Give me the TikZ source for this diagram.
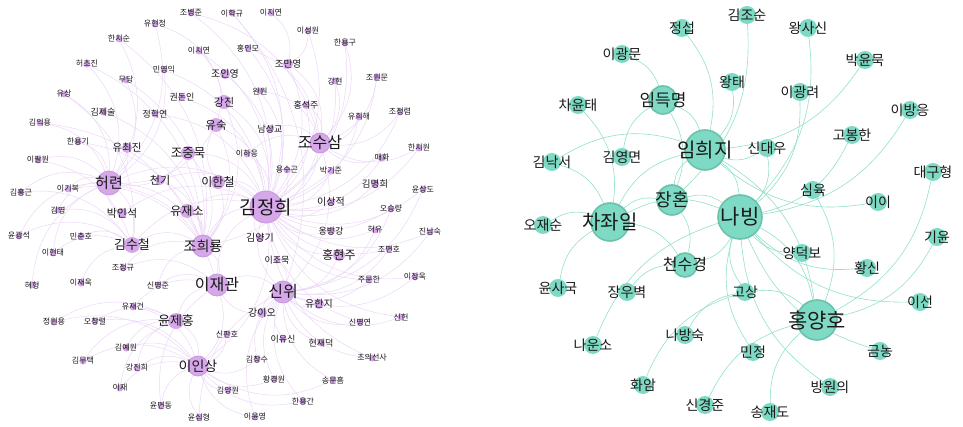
\documentclass[tikz,border=0pt]{standalone}
\usepackage{fontspec}
\setmainfont{Noto Sans CJK KR}
\pgfdeclarelayer{edgelayer}
\pgfdeclarelayer{textlayer}
\pgfsetlayers{edgelayer,main,textlayer}
\definecolor{pdot}{RGB}{214,168,234}
\definecolor{pring}{RGB}{198,150,222}
\definecolor{pline}{RGB}{236,214,247}
\definecolor{gdot}{RGB}{126,218,196}
\definecolor{gring}{RGB}{106,194,170}
\definecolor{gline}{RGB}{146,224,202}
\definecolor{ink}{RGB}{25,25,25}
\tikzset{
  pnode/.style={circle,fill=pdot,inner sep=0pt},
  pbig/.style={pnode,draw=pring,line width=0.8pt},
  gnode/.style={circle,fill=gdot,inner sep=0pt},
  gbig/.style={gnode,draw=gring,line width=1.6pt},
  pedge/.style={draw=pline,line width=0.5pt},
  gedge/.style={draw=gline,line width=0.6pt}
}
% #1 style, #2 name, #3 position, #4 diameter, #5 font size, #6 label
\newcommand\vtx[6]{%
  \node[#1,minimum size=#4pt] (#2) at (#3) {};
  \begin{pgfonlayer}{textlayer}
    \node[text=ink,inner sep=0pt,font=\fontsize{#5}{#5}\selectfont] at (#2) {#6};
  \end{pgfonlayer}}
\begin{document}
\begin{tikzpicture}[x=1pt,y=-1pt]
\useasboundingbox (0,0) rectangle (963,427);

% ---------- left network: hubs ----------
\vtx{pbig}{kjh}{266,207}{32}{19}{김정희}
\vtx{pbig}{hr}{109,183}{24}{15}{허련}
\vtx{pbig}{jhr}{203,246}{22}{14}{조희룡}
\vtx{pbig}{ljg}{217,285}{22}{16}{이재관}
\vtx{pbig}{sw}{283,292}{22}{16}{신위}
\vtx{pbig}{jss}{320,143}{20}{16}{조수삼}
\vtx{pbig}{lis}{198,366}{20}{14}{이인상}
\vtx{pnode}{ksc}{132,245}{16}{13}{김수철}
\vtx{pnode}{yjh}{176,321}{16}{13}{윤제홍}
\vtx{pnode}{jjm}{188,153}{14}{12.5}{조중묵}
\vtx{pnode}{lhc}{218,182}{14}{12}{이한철}
\vtx{pnode}{yjs}{187,211}{14}{12}{유재소}
\vtx{pnode}{gj}{224,102}{14}{11}{강진}
\vtx{pnode}{ys}{216,125}{14}{11.5}{유숙}
\vtx{pnode}{hhj}{339,255}{12}{12}{홍현주}
\vtx{pnode}{cg}{160,180}{10}{11}{천기}
\vtx{pnode}{pis}{122,213}{10}{11}{박인석}
\vtx{pnode}{ycj}{127,148}{10}{10.5}{유최진}
\vtx{pnode}{jmy}{288,64}{10}{9.5}{조만영}
\vtx{pnode}{jiy}{225,74}{10}{10}{조인영}
\vtx{pnode}{yhj}{319,304}{10}{10}{유한지}
\vtx{pnode}{gio}{262,313}{10}{10}{강이오}
\vtx{pnode}{kyg}{260,238}{8}{10}{김양기}
\vtx{pnode}{lsj}{331,202}{8}{10}{이상적}
\vtx{pnode}{obg}{331,231}{8}{9}{옹방강}
\vtx{pnode}{kmh}{375,184}{8}{9.5}{김명희}
\vtx{pnode}{hsj}{306,105}{8}{9}{홍석주}
\vtx{pnode}{nsg}{270,129}{8}{9}{남상교}
\vtx{pnode}{jhy}{155,114}{7}{9}{정학연}
\vtx{pnode}{kjs}{103,112}{7}{9}{김제술}
\vtx{pnode}{gdi}{182,97}{7}{9}{권돈인}
\vtx{pnode}{ljm}{277,260}{7}{9}{이조묵}
\vtx{pnode}{lys}{283,339}{7}{9}{이유신}
\vtx{pnode}{hjd}{321,343}{7}{9}{현재덕}
\vtx{pnode}{cus}{372,358}{7}{8}{초의선사}

% ---------- left network: outer names ----------
\vtx{pnode}{jbj}{191,13}{7}{8}{조병준}
\vtx{pnode}{lhg}{232,13}{7}{8}{이학규}
\vtx{pnode}{ljy}{271,13}{7}{8}{이지연}
\vtx{pnode}{yhjg}{155,24}{7}{8}{유현정}
\vtx{pnode}{hcs}{119,39}{7}{8}{한치순}
\vtx{pnode}{lcy}{199,51}{7}{8}{이치연}
\vtx{pnode}{hcj}{87,64}{7}{8}{허초진}
\vtx{pnode}{myi}{164,70}{7}{8}{민영익}
\vtx{pnode}{md}{126,80}{7}{8}{무당}
\vtx{pnode}{ysang}{64,94}{7}{8}{유상}
\vtx{pnode}{kiy}{40,123}{7}{8}{김익용}
\vtx{pnode}{hyg}{78,142}{7}{8}{한용기}
\vtx{pnode}{lsw}{308,31}{7}{8}{이성원}
\vtx{pnode}{him}{248,48}{7}{8}{홍인모}
\vtx{pnode}{hygu}{345,43}{7}{8}{한용구}
\vtx{pnode}{gh}{335,81}{7}{8}{강현}
\vtx{pnode}{jwm}{377,77}{7}{8}{조원문}
\vtx{pnode}{ww}{260,91}{7}{8}{완원}
\vtx{pnode}{jjr}{400,112}{7}{8}{조정렴}
\vtx{pnode}{yhh}{359,117}{7}{8}{유희해}
\vtx{pnode}{lpw}{38,160}{7}{8}{이팔원}
\vtx{pnode}{khg}{21,192}{7}{8}{김홍근}
\vtx{pnode}{lgb}{68,189}{7}{8}{이기복}
\vtx{pnode}{ky}{58,210}{7}{8}{김영}
\vtx{pnode}{ygs}{19,236}{7}{8}{윤광석}
\vtx{pnode}{mch}{81,236}{7}{8}{민춘호}
\vtx{pnode}{lht}{53,253}{7}{8}{이현태}
\vtx{pnode}{jjg}{123,268}{7}{8}{조정규}
\vtx{pnode}{lhe}{247,154}{7}{8}{이하응}
\vtx{pnode}{hcw}{419,148}{7}{8}{한치원}
\vtx{pnode}{mh}{382,158}{7}{8}{매화}
\vtx{pnode}{ysgo}{287,170}{7}{8}{용수곤}
\vtx{pnode}{pgj}{331,171}{7}{8}{박기준}
\vtx{pnode}{ysd}{423,189}{7}{8}{윤상도}
\vtx{pnode}{osr}{391,209}{7}{8}{오승량}
\vtx{pnode}{hy}{375,230}{7}{8}{허유}
\vtx{pnode}{jns}{430,232}{7}{8}{진남숙}
\vtx{pnode}{jmh}{389,249}{7}{8}{조면호}
\vtx{pnode}{jmhn}{369,280}{7}{8}{주문한}
\vtx{pnode}{ljw}{415,277}{7}{8}{이장욱}
\vtx{pnode}{hh}{32,285}{7}{8}{허형}
\vtx{pnode}{ljwk}{81,283}{7}{8}{이재욱}
\vtx{pnode}{smj}{158,285}{7}{8}{신명준}
\vtx{pnode}{yjg}{133,307}{7}{8}{유재건}
\vtx{pnode}{jwy}{54,322}{7}{8}{정원용}
\vtx{pnode}{ocr}{95,321}{7}{8}{오창렬}
\vtx{pnode}{sph}{227,334}{7}{8}{신판호}
\vtx{pnode}{kyw}{126,348}{7}{8}{김예원}
\vtx{pnode}{kmt}{83,361}{7}{8}{김무택}
\vtx{pnode}{gjh}{137,368}{7}{8}{강진희}
\vtx{pnode}{lj}{120,388}{7}{8}{이재}
\vtx{pnode}{kywn}{228,390}{7}{8}{김양원}
\vtx{pnode}{ymd}{161,406}{7}{8}{윤면동}
\vtx{pnode}{ysh}{199,417}{7}{8}{윤심형}
\vtx{pnode}{smy}{360,322}{7}{8}{신명연}
\vtx{pnode}{sh}{401,317}{7}{8}{신헌}
\vtx{pnode}{kcs}{257,359}{7}{8}{김창수}
\vtx{pnode}{hgw}{274,379}{7}{8}{황경원}
\vtx{pnode}{smh}{333,380}{7}{8}{송문흠}
\vtx{pnode}{hyk}{303,401}{7}{8}{한용간}
\vtx{pnode}{lyy}{255,417}{7}{8}{이윤영}

% ---------- right network ----------
\vtx{gbig}{rnb}{740,217}{44}{21}{나빙}
\vtx{gbig}{rlhj}{705,150}{40}{20}{임희지}
\vtx{gbig}{rhyh}{817,320}{40}{21}{홍양호}
\vtx{gbig}{rcji}{610,222}{38}{20}{차좌일}
\vtx{gbig}{rjh}{672,200}{30}{18}{장혼}
\vtx{gbig}{rldm}{663,100}{28}{17}{임득명}
\vtx{gbig}{rcsg}{685,265}{24}{16}{천수경}
\vtx{gnode}{rjs}{682,28}{18}{14}{정섭}
\vtx{gnode}{rlgm}{622,54}{18}{14}{이광문}
\vtx{gnode}{rcyt}{578,105}{18}{14}{차윤태}
\vtx{gnode}{rkjs}{747,15}{18}{14}{김조순}
\vtx{gnode}{rwss}{808,28}{18}{14}{왕사신}
\vtx{gnode}{rpym}{865,60}{18}{14}{박윤묵}
\vtx{gnode}{rwt}{732,82}{18}{14}{왕태}
\vtx{gnode}{rlgr}{800,92}{18}{14}{이광려}
\vtx{gnode}{rlbe}{910,110}{18}{14}{이방응}
\vtx{gnode}{rgbh}{852,135}{18}{14}{고봉한}
\vtx{gnode}{rkns}{552,162}{18}{14}{김낙서}
\vtx{gnode}{rkym}{622,157}{18}{14}{김영면}
\vtx{gnode}{rojs}{543,225}{18}{14}{오재순}
\vtx{gnode}{rsdw}{767,148}{18}{14}{신대우}
\vtx{gnode}{rdgh}{933,172}{18}{14}{대구형}
\vtx{gnode}{rsy}{813,190}{18}{14}{심육}
\vtx{gnode}{rii}{878,202}{18}{14}{이이}
\vtx{gnode}{rgy}{937,237}{18}{14}{기윤}
\vtx{gnode}{rydb}{802,253}{18}{14}{양덕보}
\vtx{gnode}{rhs}{867,268}{18}{14}{황신}
\vtx{gnode}{rysg}{558,288}{18}{14}{윤사국}
\vtx{gnode}{rjwb}{627,292}{18}{14}{장우벽}
\vtx{gnode}{rnbs}{685,335}{18}{14}{나방숙}
\vtx{gnode}{rnus}{593,345}{18}{14}{나운소}
\vtx{gnode}{rha}{643,385}{18}{14}{화암}
\vtx{gnode}{rsgj}{705,405}{18}{14}{신경준}
\vtx{gnode}{rgs}{745,292}{18}{14}{고상}
\vtx{gnode}{rls}{920,302}{18}{14}{이선}
\vtx{gnode}{rmj}{753,352}{18}{14}{민정}
\vtx{gnode}{rgn}{880,351}{18}{14}{금농}
\vtx{gnode}{rbwe}{830,387}{18}{14}{방원의}
\vtx{gnode}{rsjd}{770,412}{18}{14}{송재도}

% ---------- connectors ----------
\begin{pgfonlayer}{edgelayer}
\foreach \a/\b in {jbj/kjh,lhg/kjh,ljy/jmy,yhjg/gj,hcs/hr,lcy/ys,hcj/hr,myi/kjh,
  md/hr,jiy/kjh,ysang/hr,gdi/kjh,gj/kjh,gj/jhr,kjs/jhr,jhy/kjh,ys/kjh,ys/jhr,
  ys/hr,kiy/hr,hyg/hr,lsw/jmy,him/jss,hygu/jss,jmy/kjh,jmy/jss,gh/jss,jwm/jss,
  ww/kjh,hsj/jss,hsj/kjh,jjr/jss,yhh/kjh,nsg/jss,jss/kjh,jss/sw,jss/jhr,
  ycj/jhr,ycj/hr,jjm/kjh,jjm/hr,lpw/hr,hr/kjh,hr/ksc,cg/jhr,cg/kjh,lhc/kjh,
  lhc/ys,khg/hr,lgb/hr,ky/ksc,pis/hr,pis/kjh,yjs/kjh,yjs/jhr,ygs/ksc,mch/ksc,
  lht/ksc,ksc/jhr,ksc/kjh,jhr/kjh,jhr/ljg,jjg/jhr,lhe/kjh,hcw/kjh,mh/jss,
  ysgo/kjh,pgj/kjh,kmh/kjh,ysd/sw,lsj/kjh,osr/kjh,kyg/kjh,obg/kjh,hy/kjh,
  jns/sw,jmh/kjh,hhj/sw,hhj/kjh,ljm/sw,jmhn/sw,ljw/sw,hh/hr,ljwk/ksc,smj/ljg,
  ljg/kjh,ljg/sw,ljg/lis,yjg/ljg,jwy/yjh,ocr/yjh,yjh/ljg,yjh/lis,sph/lis,
  kyw/lis,kmt/lis,gjh/lis,lj/lis,kywn/lis,ymd/lis,ysh/lis,sw/kjh,yhj/sw,
  gio/sw,gio/ljg,smy/sw,sh/kjh,lys/sw,hjd/sw,cus/kjh,kcs/lis,hgw/lis,smh/lis,
  hyk/lis,lyy/lis,hr/jhr,jjm/jhr,lhc/jhr,hr/ljg,kjh/lis}
  \draw[pedge] (\a) to[bend left=30] (\b);
% second ties of the outer names
\foreach \a/\b in {jbj/jss,lhg/sw,yhjg/hr,hcs/jhr,myi/hr,md/jhr,ysang/ksc,
  kiy/jhr,hyg/jhr,lsw/kjh,him/kjh,hygu/kjh,gh/kjh,jwm/kjh,jjr/kjh,ww/jss,
  lpw/ksc,khg/ksc,lgb/jhr,ky/hr,ygs/hr,lht/hr,jjg/ljg,lhe/jss,hcw/jss,mh/kjh,
  osr/sw,hy/sw,jmh/sw,jns/kjh,ysd/kjh,smy/kjh,sh/sw,cus/sw,ljw/kjh,jmhn/kjh,
  smj/jhr,yjg/lis,jwy/lis,ocr/lis,kmt/yjh,kyw/yjh,gjh/yjh,lj/yjh,lyy/sw,
  hyk/sw,kcs/sw,hgw/sw,smh/sw,ysh/sw,ymd/ljg,hcj/jhr,lcy/kjh,yhh/jss}
  \draw[pedge] (\a) to[bend left=30] (\b);
\foreach \a/\b in {rlgm/rldm,rjs/rlhj,rkjs/rjh,rldm/rlhj,rldm/rjh,rkym/rldm,
  rcyt/rcji,rwt/rlhj,rwss/rnb,rpym/rlhj,rlgr/rnb,rlbe/rnb,rgbh/rnb,rsdw/rnb,
  rsdw/rlhj,rdgh/rhyh,rii/rlhj,rsy/rhyh,rgy/rhyh,rydb/rnb,rhs/rnb,rls/rnb,
  rgn/rnb,rbwe/rnb,rsjd/rhyh,rsgj/rhyh,rmj/rnb,rgs/rnb,rgs/rhyh,rha/rgs,
  rnbs/rgs,rnus/rnb,rjwb/rcsg,rysg/rcji,rojs/rcji,rkns/rlhj,rcji/rjh,rcji/rnb,
  rcji/rcsg,rcji/rlhj,rjh/rlhj,rjh/rnb,rjh/rcsg,rlhj/rnb,rnb/rhyh,rlhj/rhyh,
  rnb/rcsg,rkns/rcji}
  \draw[gedge] (\a) to[bend left=25] (\b);
\end{pgfonlayer}
\end{tikzpicture}
\end{document}
